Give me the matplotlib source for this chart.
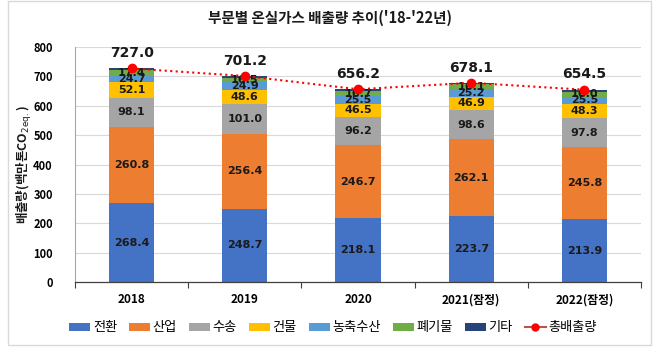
import matplotlib
matplotlib.use("Agg")
import matplotlib.pyplot as plt
import numpy as np
from matplotlib.patches import Rectangle, Patch
from matplotlib.lines import Line2D

plt.rcParams['font.family'] = ['Noto Sans CJK KR', 'DejaVu Sans']

years = ['2018', '2019', '2020', '2021(잠정)', '2022(잠정)']
conversion = [268.4, 248.7, 218.1, 223.7, 213.9]   # 전환
industry = [260.8, 256.4, 246.7, 262.1, 245.8]     # 산업
transport = [98.1, 101.0, 96.2, 98.6, 97.8]        # 수송
building = [52.1, 48.6, 46.5, 46.9, 48.3]          # 건물
agriculture = [24.7, 24.9, 25.5, 25.2, 25.5]       # 농축수산
waste = [17.4, 16.5, 16.7, 16.1, 16.0]             # 폐기물
other = [5.5, 5.1, 6.5, 5.5, 7.2]                  # 기타
total = [727.0, 701.2, 656.2, 678.1, 654.5]        # 총배출량

series_names = ['전환', '산업', '수송', '건물', '농축수산', '폐기물', '기타']
series_vals = [conversion, industry, transport, building, agriculture, waste, other]
colors = ['#4472C4', '#ED7D31', '#A5A5A5', '#FFC000', '#5B9BD5', '#70AD47', '#264478']
labeled = [True, True, True, True, True, True, False]

W, H = 659, 357
fig = plt.figure(figsize=(W / 100, H / 100), dpi=100)

# outer frame
fig.patches.append(Rectangle((8 / W, 1 - 345 / H), (651 - 8) / W, (345 - 1) / H,
                             transform=fig.transFigure, fill=False,
                             edgecolor='#D9D9D9', lw=1.0))

ax = fig.add_axes([75 / W, 1 - 282 / H, (641 - 75) / W, (282 - 47) / H])
x = np.arange(len(years))
bw = 0.40
bottom = np.zeros(len(years))
for name, vals, c, lab in zip(series_names, series_vals, colors, labeled):
    v = np.array(vals)
    ax.bar(x, v, bw, bottom=bottom, color=c, label=name, zorder=2)
    if lab:
        for xi, b, vi in zip(x, bottom, v):
            ax.text(xi, b + vi / 2, f'{vi:.1f}', ha='center', va='center',
                    fontsize=8, fontweight='bold', color='#1a1a1a', zorder=4,
                    family=['DejaVu Sans'])
    bottom += v

ax.plot(x, total, linestyle=':', color='#FF0000', lw=1.5, marker='o',
        markersize=6, markerfacecolor='#FF0000', markeredgecolor='#FF0000', zorder=5)
for xi, t in zip(x, total):
    ax.text(xi, t + 52, f'{t:.1f}', ha='center', va='center', fontsize=10,
            fontweight='bold', color='#1a1a1a', family=['DejaVu Sans'])

ax.set_xlim(-0.5, len(years) - 0.5)
ax.set_ylim(0, 800)
ax.set_yticks(np.arange(0, 801, 100))
ax.yaxis.grid(True, color='#D9D9D9', lw=0.8, zorder=0)
ax.set_axisbelow(True)
ax.set_xticks(x)
ax.set_xticklabels(years, fontsize=8.5, fontweight='bold')
ax.set_xticks(np.arange(-0.5, len(years), 1.0), minor=True)
ax.tick_params(axis='x', which='major', length=0, pad=8)
ax.tick_params(axis='x', which='minor', length=4, color='#404040', width=0.8)
ax.tick_params(axis='y', length=0, pad=16, labelsize=8)
for lbl in ax.get_yticklabels():
    lbl.set_fontweight('bold')
for s in ['top', 'right']:
    ax.spines[s].set_visible(False)
ax.spines['left'].set_color('#A6A6A6')
ax.spines['bottom'].set_color('#404040')
ax.spines['bottom'].set_linewidth(0.9)

fig.text(24 / W, 1 - 165 / H, r'배출량(백만톤CO$_{\mathrm{2eq.}}$)', rotation=90, ha='center', va='center',
         fontsize=9, fontweight='bold', color='#1a1a1a')

fig.text(330 / W, 1 - 18 / H, "부문별 온실가스 배출량 추이('18-'22년)", ha='center', va='center',
         fontsize=10.5, fontweight='bold', color='#1a1a1a')

handles = [Patch(facecolor=c, edgecolor='none') for c in colors]
handles.append(Line2D([0], [0], color='#C0504D', lw=1.5, marker='o', markersize=5,
                      markerfacecolor='#FF0000', markeredgecolor='#FF0000'))
labels = series_names + ['총배출량']
fig.legend(handles, labels, loc='center', bbox_to_anchor=(333 / W, 1 - 328 / H), ncol=8,
           frameon=False, fontsize=9.5, handlelength=1.6, handleheight=0.5,
           handletextpad=0.2, columnspacing=0.9, borderaxespad=0)

fig.savefig('out.png', dpi=100)
